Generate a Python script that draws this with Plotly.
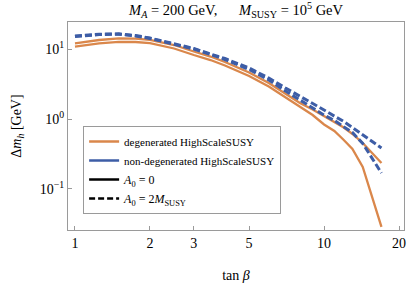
import plotly.graph_objects as go

tan_beta = [1.0, 1.25, 1.5, 1.75, 2.0, 2.5, 3.0, 3.5, 4.0, 5.0, 6.0, 7.0, 8.0,
            9.0, 10.0, 11.0, 12.0, 13.0, 14.3, 17.0]

# orange (degenerated HighScaleSUSY), two solid curves
deg_upper = [12.06, 13.45, 14.17, 14.08, 13.53, 11.41, 9.21, 7.81, 6.52, 4.62,
             3.27, 2.28, 1.69, 1.37, 1.10, 0.921, 0.756, 0.611, 0.454, 0.235]
deg_lower = [10.79, 12.06, 12.67, 12.59, 12.10, 10.17, 8.21, 6.96, 5.81, 4.11,
             2.91, 2.03, 1.46, 1.14, 0.835, 0.674, 0.501, 0.373, 0.206, 0.0287]

# blue (non-degenerated HighScaleSUSY), two dashed curves
nondeg_upper = [15.34, 16.27, 16.49, 15.59, 14.36, 11.98, 10.17, 8.48, 7.32, 5.35,
                3.85, 2.77, 2.13, 1.69, 1.345, 1.10, 0.921, 0.756, 0.591, 0.385]
nondeg_lower = [15.09, 16.06, 16.27, 15.39, 14.17, 11.79, 10.0, 8.35, 7.08, 5.10,
                3.61, 2.51, 1.87, 1.46, 1.14, 0.952, 0.781, 0.641, 0.447, 0.169]

x_ticks = [1, 2, 3, 5, 10, 20]
x_ticktext = ["1", "2", "3", "5", "10", "20"]
y_ticks = [0.1, 1, 10]
y_ticktext = ["10<sup>\u22121</sup>", "10<sup>0</sup>", "10<sup>1</sup>"]

ORANGE = "#DA874B"
BLUE = "#3D5DA6"
GRAY = "#9a9a9a"
FONT = "Liberation Serif"

fig = go.Figure()

fig.add_trace(go.Scatter(x=tan_beta, y=deg_upper, mode="lines",
                         line=dict(color=ORANGE, width=2.3), showlegend=False))
fig.add_trace(go.Scatter(x=tan_beta, y=deg_lower, mode="lines",
                         line=dict(color=ORANGE, width=2.3), showlegend=False))
fig.add_trace(go.Scatter(x=tan_beta, y=nondeg_upper, mode="lines",
                         line=dict(color=BLUE, width=3, dash="7px,3px"), showlegend=False))
fig.add_trace(go.Scatter(x=tan_beta, y=nondeg_lower, mode="lines",
                         line=dict(color=BLUE, width=3, dash="7px,3px"), showlegend=False))

# legend entries
fig.add_trace(go.Scatter(x=[None], y=[None], mode="lines",
                         line=dict(color=ORANGE, width=2.5),
                         name="<span style='font-size:11px'>degenerated HighScaleSUSY</span>"))
fig.add_trace(go.Scatter(x=[None], y=[None], mode="lines",
                         line=dict(color=BLUE, width=2.5),
                         name="<span style='font-size:11px'>non-degenerated HighScaleSUSY</span>"))
fig.add_trace(go.Scatter(x=[None], y=[None], mode="lines",
                         line=dict(color="black", width=2.5),
                         name="<i>A</i><sub>0</sub> = 0"))
fig.add_trace(go.Scatter(x=[None], y=[None], mode="lines",
                         line=dict(color="black", width=2.5, dash="6px,3px"),
                         name="<i>A</i><sub>0</sub> = 2<i>M</i><sub>SUSY</sub>"))

fig.update_layout(
    width=407, height=288,
    margin=dict(l=68, r=3, t=22, b=58, autoexpand=False),
    paper_bgcolor="white", plot_bgcolor="white",
    font=dict(family=FONT, size=14, color="black"),
    title=dict(text="<i>M</i><sub><i>A</i></sub> = 200 GeV,\u2003\u2002<i>M</i><sub>SUSY</sub> = 10<sup>5</sup> GeV",
               x=0.58, xanchor="center", y=0.965, yanchor="middle",
               font=dict(family=FONT, size=14.5)),
    xaxis=dict(type="log", range=[-0.028, 1.321], automargin=False,
               tickvals=x_ticks, ticktext=x_ticktext,
               ticks="inside", ticklen=4, tickcolor=GRAY,
               showline=True, linecolor=GRAY, linewidth=1, mirror=True,
               showgrid=False, zeroline=False,
               tickfont=dict(family=FONT, size=14),
               title=dict(text="tan <i>\u03b2</i>", standoff=20,
                          font=dict(family=FONT, size=14))),
    yaxis=dict(type="log", range=[-1.586, 1.386], automargin=False,
               tickvals=y_ticks, ticktext=y_ticktext,
               ticks="inside", ticklen=4, tickcolor=GRAY,
               showline=True, linecolor=GRAY, linewidth=1, mirror=True,
               showgrid=False, zeroline=False,
               tickfont=dict(family=FONT, size=14),
               title=dict(text="\u0394<i>m</i><sub><i>h</i></sub> [GeV]", standoff=14,
                          font=dict(family=FONT, size=14))),
    legend=dict(x=0.045, y=0.5, xanchor="left", yanchor="top",
                bgcolor="white", bordercolor=GRAY, borderwidth=1,
                font=dict(family=FONT, size=12), tracegroupgap=0,
                itemwidth=30),
)

fig.write_html("out.html", config={"displayModeBar": False},
               post_script="document.body.style.margin='0';document.body.style.overflow='hidden';")
